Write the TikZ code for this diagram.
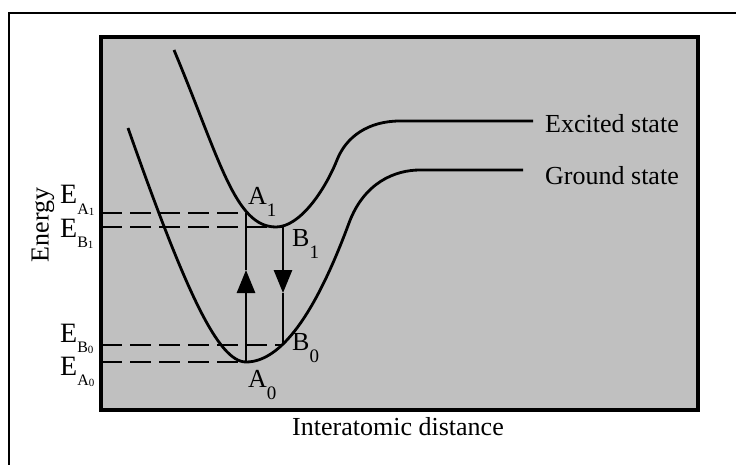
\documentclass[tikz,border=0pt]{standalone}
\usepackage{fontspec}
\setmainfont{Liberation Serif}
\usetikzlibrary{arrows.meta}
\definecolor{boxgray}{HTML}{C0C0C0}
\newcommand\ptlab[2]{#1\raisebox{-12pt}{\fontsize{19}{19}\selectfont #2}}
\newcommand\elab[2]{{\fontsize{28}{28}\selectfont E}\raisebox{-10.5pt}{\fontsize{16}{16}\selectfont #1\raisebox{-1pt}{\fontsize{11}{11}\selectfont #2}}}
\begin{document}
\begin{tikzpicture}[x=1pt,y=-1pt,
  curve/.style={line width=2.8pt},
  dashline/.style={line width=2.8pt, dash pattern=on 21pt off 8pt},
  tipstyle/.style={-{Triangle[width=18pt,length=23pt]}},
  lbl/.style={inner sep=0pt, anchor=base west, font=\fontsize{26}{30}\selectfont},
  txt/.style={inner sep=0pt, font=\fontsize{26}{30}\selectfont}]
\useasboundingbox (0,0) rectangle (736,465);
\clip (0,0) rectangle (736,465);
\draw[line width=2.8pt] (9,13) rectangle (760,490);
\draw[line width=3.5pt, fill=boxgray] (101,37) rectangle (698,410);
% key points
\coordinate (A1) at (246,213);
\coordinate (B1) at (283,227);
\coordinate (B0) at (283,345);
\coordinate (A0) at (246,362);
\coordinate (LA1) at (101,213);
\coordinate (LB1) at (101,227);
\coordinate (LB0) at (101,345);
\coordinate (LA0) at (101,362);
\coordinate (upTip) at (246,270);
\coordinate (downTip) at (283,293);
% dashed levels
\draw[dashline] (LA1) -- (A1);
\draw[dashline] (LB1) -- (B1);
\draw[dashline] (LB0) -- (B0);
\draw[dashline] (LA0) -- (A0);
% excited state curve
\draw[curve] (174,50) .. controls (220,160) and (235,227) .. (276,227)
  .. controls (300,227) and (325,190) .. (337,160)
  .. controls (346,137) and (368,121) .. (400,121) -- (533,121);
% ground state curve
\draw[curve] (128,128) .. controls (185,290) and (218,362) .. (246,362)
  .. controls (280.3,362) and (314.7,315.7) .. (349,223)
  .. controls (364,182.5) and (395,170) .. (420,170) -- (523,170);
% transitions
\draw[curve, tipstyle] (A0) -- (upTip);
\draw[curve] (upTip) -- (A1);
\draw[curve, tipstyle] (B1) -- (downTip);
\draw[curve] (downTip) -- (B0);
% labels
\node[lbl] (labA1) at (248,205) {\ptlab{A}{1}};
\node[lbl] (labB1) at (292,247) {\ptlab{B}{1}};
\node[lbl] (labB0) at (292,350) {\ptlab{B}{0}};
\node[lbl] (labA0) at (248,387) {\ptlab{A}{0}};
\node[lbl] (eA1) at (60,204) {\elab{A}{1}};
\node[lbl] (eB1) at (60,237) {\elab{B}{1}};
\node[lbl] (eB0) at (60,342) {\elab{B}{0}};
\node[lbl] (eA0) at (60,375) {\elab{A}{0}};
\node[lbl] (exc) at (545,133) {Excited state};
\node[lbl] (gnd) at (545,185) {Ground state};
\node[txt, anchor=base] (xlab) at (398,435) {Interatomic distance};
\node[txt, rotate=90] (ylab) at (43,225) {Energy};
\end{tikzpicture}
\end{document}
